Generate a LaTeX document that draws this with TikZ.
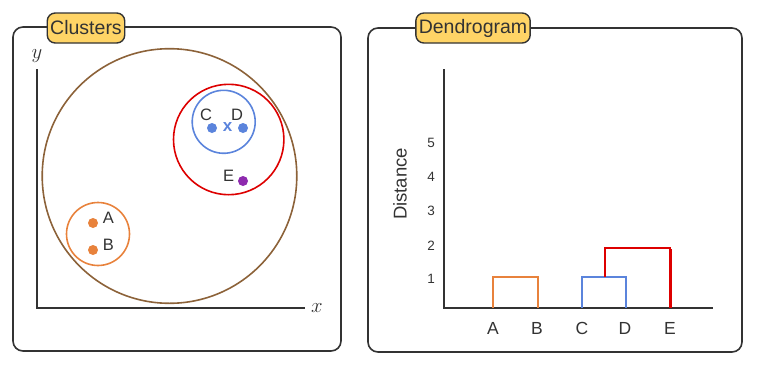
\documentclass[tikz,border=0pt]{standalone}
\usepackage{fontspec}
\setmainfont{Liberation Sans}
\definecolor{ink}{HTML}{333333}
\definecolor{tagfill}{HTML}{FFD466}
\definecolor{cbrown}{HTML}{8C6239}
\definecolor{cred}{HTML}{DD0000}
\definecolor{cblue}{HTML}{5B84DC}
\definecolor{corange}{HTML}{E8823C}
\definecolor{cpurple}{HTML}{8E2AAE}
\tikzset{
  panel/.style={draw=ink, line width=1.6pt, rounded corners=10pt},
  tag/.style={draw=ink, line width=1.4pt, fill=tagfill, rounded corners=8pt, minimum height=30pt, inner xsep=3pt, inner ysep=0pt, font=\fontsize{19.5}{21}\selectfont, text=ink},
  axis/.style={draw=ink, line width=1.8pt},
  ring/.style={line width=1.6pt},
  pt/.style={circle, inner sep=0pt, minimum size=10pt},
  lbl/.style={font=\fontsize{16.5}{18}\selectfont, text=ink, inner sep=0pt},
  leaf/.style={font=\fontsize{17.5}{19}\selectfont, text=ink, inner sep=0pt},
  tick/.style={font=\fontsize{13.5}{15}\selectfont, text=ink, inner sep=0pt},
  branch/.style={line width=1.7pt},
  axlab/.style={font=\fontsize{22}{24}\selectfont, text=ink, inner sep=0pt},
}
\begin{document}
\begin{tikzpicture}[x=1pt,y=-1pt]
\useasboundingbox (0,0) rectangle (757,367);
% panels
\draw[panel] (13,27) rectangle (341,351);
\draw[panel] (368,28) rectangle (742,352);
\node[tag] (tagL) at (86,28) {Clusters};
\node[tag] (tagR) at (473,28) {Dendrogram};
% left axes
\coordinate (yt) at (37,69);
\coordinate (o) at (37,308);
\coordinate (xr) at (305,308);
\draw[axis] (yt) -- (o) -- (xr);
\node[axlab] (ylab) at (37,56) {$y$};
\node[axlab] (xlab) at (317,308) {$x$};
% circles
\draw[ring, cbrown] (169.5,176) circle (127.3);
\draw[ring, cred] (228.7,139.5) circle (55.2);
\draw[ring, cblue] (223.7,121.8) circle (31.5);
\draw[ring, corange] (98,234) circle (31.5);
% points
\node[pt, fill=cblue] (pC) at (212,128) {};
\node[pt, fill=cblue] (pD) at (243,128) {};
\node[font=\bfseries\fontsize{17}{18}\selectfont, text=cblue, inner sep=0pt] (cent) at (227.5,127) {x};
\node[pt, fill=cpurple] (pE) at (243,181) {};
\node[pt, fill=corange] (pA) at (93,223) {};
\node[pt, fill=corange] (pB) at (93,250) {};
\node[lbl] (lC) at (206,115) {C};
\node[lbl] (lD) at (237,115) {D};
\node[lbl] (lE) at (228.5,176) {E};
\node[lbl] (lA) at (108.5,218) {A};
\node[lbl] (lB) at (108.5,244.5) {B};
% dendrogram axes
\coordinate (dyt) at (444,69);
\coordinate (do) at (444,308);
\coordinate (dxr) at (713,308);
\draw[axis] (dyt) -- (do) -- (dxr);
\node[tick] (t5) at (431,143) {5};
\node[tick] (t4) at (431,177) {4};
\node[tick] (t3) at (431,211) {3};
\node[tick] (t2) at (431,246) {2};
\node[tick] (t1) at (431,279) {1};
\node[font=\fontsize{18.5}{20}\selectfont, text=ink, rotate=90, inner sep=0pt] (dist) at (400,184) {Distance};
% leaves
\coordinate (cA) at (493,308);
\coordinate (cB) at (538,308);
\coordinate (cC) at (582,308);
\coordinate (cD) at (626,308);
\coordinate (cE) at (670.5,308);
\draw[branch, corange] (cA) -- (493,277) -- (538,277) -- (cB);
\draw[branch, cblue] (cC) -- (582,277) -- (626,277) -- (cD);
\draw[branch, cred] (605,277) -- (605,248) -- (670.5,248) -- (cE);
\draw[line width=2.4pt, cred] (670.5,249) -- (cE);
\node[leaf] (nA) at (493,328) {A};
\node[leaf] (nB) at (537,328) {B};
\node[leaf] (nC) at (582,328) {C};
\node[leaf] (nD) at (625,328) {D};
\node[leaf] (nE) at (670,328) {E};
\end{tikzpicture}
\end{document}
